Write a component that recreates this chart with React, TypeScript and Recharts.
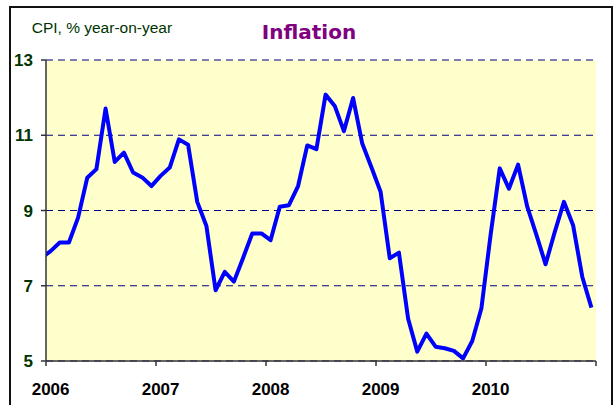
import { LineChart, Line, XAxis, YAxis, CartesianGrid } from "recharts";

// ─── Data ─────────────────────────────────────────────────────────────────────

const YEARS = ["2006", "2007", "2008", "2009", "2010"];
const X_TICKS = [0, 12, 24, 36, 48, 60];
const Y_TICKS = [5, 7, 9, 11, 13];

// CPI, % year-on-year, monthly (Dec 2005 sits just left of the axis and is clipped)
const CPI_DEC_2005 = [7.74];
const CPI_2006 = [7.92, 8.15, 8.15, 8.81, 9.87, 10.1, 11.71, 10.29, 10.54, 10.01, 9.88, 9.65];
const CPI_2007 = [9.92, 10.14, 10.89, 10.75, 9.23, 8.59, 6.88, 7.37, 7.11, 7.74, 8.39, 8.39];
const CPI_2008 = [8.21, 9.1, 9.14, 9.65, 10.73, 10.63, 12.08, 11.78, 11.11, 11.99, 10.78, 10.15];
const CPI_2009 = [9.5, 7.73, 7.88, 6.13, 5.25, 5.73, 5.38, 5.34, 5.27, 5.07, 5.53, 6.4];
const CPI_2010 = [8.35, 10.12, 9.58, 10.22, 9.1, 8.35, 7.57, 8.43, 9.23, 8.61, 7.24, 6.42];

const cpi = [...CPI_DEC_2005, ...CPI_2006, ...CPI_2007, ...CPI_2008, ...CPI_2009, ...CPI_2010];
// months counted from Jan 2006, points placed mid-month
const data = cpi.map((v, i) => ({ month: i - 0.5, cpi: v }));

// ─── Styles ───────────────────────────────────────────────────────────────────

const FONT = "'Liberation Sans', Arial, sans-serif";
const AXIS = "#333333";

// ─── Ticks ────────────────────────────────────────────────────────────────────

interface TickProps {
  x?: number;
  y?: number;
  payload?: { value: number };
}

function YearTick({ x = 0, y = 0, payload }: TickProps) {
  const label = YEARS[Math.round((payload?.value ?? 0) / 12)] ?? "";
  if (!label) return null;
  return (
    <text
      x={x + 4.6}
      y={y}
      dy="0.71em"
      textAnchor="middle"
      fontFamily={FONT}
      fontWeight="bold"
      fontSize={17}
      fill="#000000"
    >
      {label}
    </text>
  );
}

// ─── Chart ────────────────────────────────────────────────────────────────────

export default function App() {
  return (
    <div
      style={{
        position: "absolute",
        left: 0,
        top: 0,
        width: 616,
        height: 405,
        overflow: "hidden",
        background: "#ffffff",
      }}
    >
      {/* Frame */}
      <div
        style={{
          position: "absolute",
          left: 9,
          top: 6,
          width: 600,
          height: 430,
          border: "2px solid #111111",
        }}
      />

      <div style={{ position: "absolute", left: 0, top: 0 }}>
        <LineChart
          width={616}
          height={405}
          data={data}
          margin={{ top: 60, right: 20, bottom: 14, left: 10 }}
        >
          <CartesianGrid
            horizontal
            vertical={false}
            fill="#FFFFCC"
            fillOpacity={1}
            stroke="#000080"
            strokeDasharray="7 5"
          />
          <XAxis
            type="number"
            dataKey="month"
            domain={[0, 60]}
            ticks={X_TICKS}
            allowDataOverflow
            height={30}
            tickSize={5}
            tickMargin={17}
            tick={<YearTick />}
            axisLine={{ stroke: AXIS, strokeWidth: 1.5 }}
            tickLine={{ stroke: AXIS, strokeWidth: 1.5 }}
          />
          <YAxis
            type="number"
            domain={[5, 13]}
            ticks={Y_TICKS}
            allowDataOverflow
            width={36}
            tickSize={5}
            tickMargin={8}
            tick={{
              fontFamily: FONT,
              fontWeight: "bold",
              fontSize: 17,
              fill: "#003300",
            }}
            axisLine={{ stroke: AXIS, strokeWidth: 1.5 }}
            tickLine={{ stroke: AXIS, strokeWidth: 1.5 }}
          />
          <Line
            type="linear"
            dataKey="cpi"
            stroke="#0000FF"
            strokeWidth={4}
            strokeLinejoin="round"
            dot={false}
            activeDot={false}
            isAnimationActive={false}
          />
        </LineChart>
      </div>

      {/* Titles */}
      <svg
        width={616}
        height={405}
        style={{ position: "absolute", left: 0, top: 0, pointerEvents: "none" }}
      >
        <text x={31.7} y={33.3} fontFamily={FONT} fontSize={15.5} fill="#003300">
          CPI, % year-on-year
        </text>
        <text
          x={309}
          y={39}
          textAnchor="middle"
          fontFamily="'DejaVu Sans', Verdana, sans-serif"
          fontWeight="bold"
          fontSize={20}
          fill="#800080"
        >
          Inflation
        </text>
      </svg>
    </div>
  );
}
